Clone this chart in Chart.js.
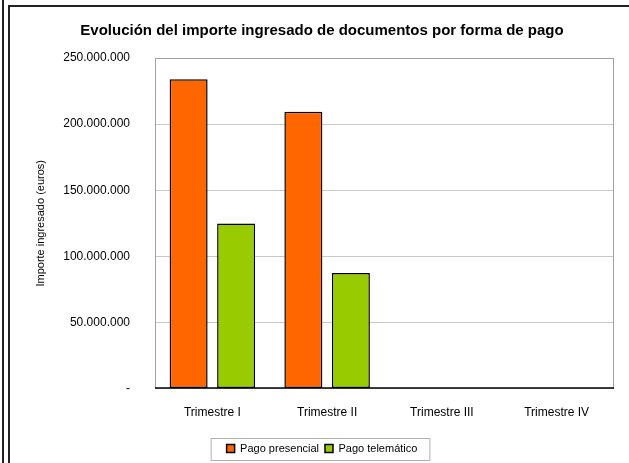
<!DOCTYPE html>
<html>
<head>
<meta charset="utf-8">
<script src="https://cdn.jsdelivr.net/npm/chart.js@4.4.0/dist/chart.umd.min.js"></script>
<style>
  html, body { margin: 0; padding: 0; background: #fff; }
  #wrap { width: 629px; height: 463px; position: relative; }
</style>
</head>
<body>
<div id="wrap"><canvas id="myChart"></canvas></div>
<script>
var trimestres = ['Trimestre I', 'Trimestre II', 'Trimestre III', 'Trimestre IV'];
var pagoPresencial = [234000000, 209300000, null, null];
var pagoTelematico = [124800000, 87400000, null, null];
var tituloGrafico = 'Evolución del importe ingresado de documentos por forma de pago';
var tituloEjeY = 'Importe ingresado (euros)';

var fuente = "'Liberation Sans', Arial, sans-serif";

function formatoMiles(v) {
    if (v === 0) return '-';
    return String(v).replace(/\B(?=(\d{3})+(?!\d))/g, '.');
}

// marco de la hoja, borde del area y caja de la leyenda
var marco = {
    id: 'marco',
    beforeDraw: function (chart) {
        var c = chart.ctx;
        c.save();
        c.strokeStyle = '#222';
        c.lineWidth = 2;
        c.beginPath();
        c.moveTo(3, 0); c.lineTo(3, 463);
        c.moveTo(9, 5); c.lineTo(9, 463);
        c.moveTo(8, 6); c.lineTo(629, 6);
        c.stroke();
        c.restore();
    },
    afterDraw: function (chart) {
        var c = chart.ctx;
        var a = chart.chartArea;
        c.save();
        c.strokeStyle = '#a0a0a0';
        c.lineWidth = 1;
        c.beginPath();
        c.moveTo(a.left + 0.5, a.bottom);
        c.lineTo(a.left + 0.5, a.top + 0.5);
        c.lineTo(a.right - 0.5, a.top + 0.5);
        c.lineTo(a.right - 0.5, a.bottom);
        c.stroke();
        c.strokeStyle = '#000';
        c.lineWidth = 1.5;
        c.beginPath();
        c.moveTo(a.left, a.bottom - 0.5);
        c.lineTo(a.right, a.bottom - 0.5);
        c.stroke();
        var hb = chart.legend.legendHitBoxes;
        if (hb && hb.length) {
            var l = hb[0].left - 16;
            var r = hb[hb.length - 1].left + hb[hb.length - 1].width + 12;
            var cy = hb[0].top + hb[0].height / 2;
            c.strokeStyle = '#b0b0b0';
            c.lineWidth = 1;
            c.strokeRect(l + 0.5, Math.round(cy - 11) + 0.5, r - l, 22);
        }
        c.restore();
    }
};

var ctx = document.getElementById('myChart').getContext('2d');
var grafico = new Chart(ctx, {
    type: 'bar',
    data: {
        labels: trimestres,
        datasets: [{
            label: 'Pago presencial',
            data: pagoPresencial,
            backgroundColor: '#FF6600',
            borderColor: '#000',
            borderWidth: 1.5,
            borderSkipped: false
        }, {
            label: 'Pago telemático',
            data: pagoTelematico,
            backgroundColor: '#99CC00',
            borderColor: '#000',
            borderWidth: 1.5,
            borderSkipped: false
        }]
    },
    options: {
        responsive: true,
        maintainAspectRatio: false,
        animation: false,
        layout: { padding: { left: 30, right: 15, top: 10, bottom: -1 } },
        categoryPercentage: 0.828,
        barPercentage: 0.8,
        plugins: {
            title: {
                display: true,
                text: tituloGrafico,
                color: '#000',
                font: { family: fuente, size: 15, weight: 'bold' },
                padding: { top: 12, bottom: 18 }
            },
            legend: {
                position: 'bottom',
                labels: {
                    color: '#000',
                    font: { family: fuente, size: 11 },
                    boxWidth: 8,
                    boxHeight: 8,
                    padding: 6
                }
            },
            tooltip: { enabled: false }
        },
        scales: {
            x: {
                grid: { display: false, drawTicks: false },
                border: { display: false },
                ticks: { color: '#000', font: { family: fuente, size: 12 }, padding: 17, maxRotation: 0 }
            },
            y: {
                min: 0,
                max: 250000000,
                afterFit: function (s) { s.width = 125; },
                grid: { color: '#c8c8c8', drawTicks: false },
                border: { display: false },
                ticks: {
                    stepSize: 50000000,
                    color: '#000',
                    font: { family: fuente, size: 12 },
                    padding: 25,
                    callback: function (v) { return formatoMiles(v); }
                },
                title: {
                    display: true,
                    text: tituloEjeY,
                    color: '#000',
                    font: { family: fuente, size: 11 },
                    padding: { top: 4, bottom: 0 }
                }
            }
        }
    },
    plugins: [marco]
});
</script>
</body>
</html>
